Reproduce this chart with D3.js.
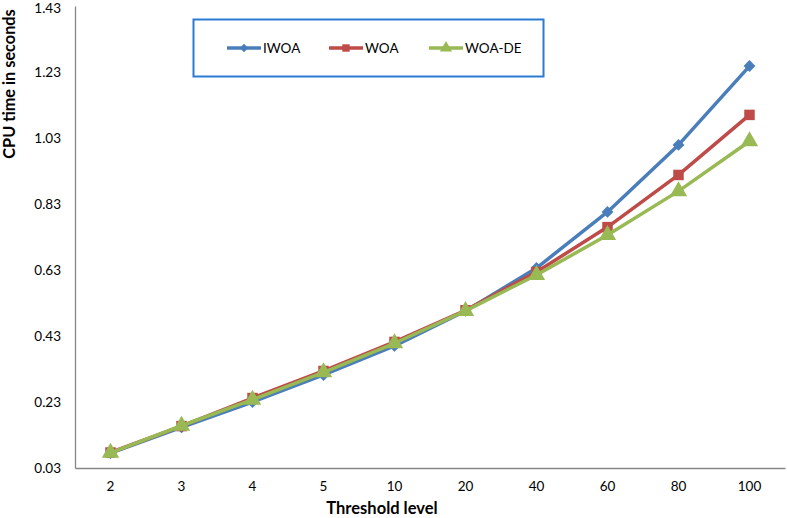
<!DOCTYPE html>
<html><head><meta charset="utf-8">
<script src="https://cdn.jsdelivr.net/npm/d3@7"></script>
<style>body{margin:0;background:#fff}svg{display:block;font-family:Lato,"Open Sans",sans-serif}</style>
</head><body><svg id="c" width="787" height="518"></svg>
<script>
const categories = ["2","3","4","5","10","20","40","60","80","100"];
const iwoa  = [0.075,0.153,0.230,0.312,0.400,0.506,0.636,0.806,1.009,1.248];
const woa   = [0.077,0.157,0.242,0.324,0.412,0.508,0.624,0.760,0.918,1.100];
const woaDe = [0.076,0.158,0.237,0.320,0.408,0.506,0.615,0.736,0.869,1.020];
const yTicks = [0.03,0.23,0.43,0.63,0.83,1.03,1.23,1.43];
const seriesNames = ["IWOA","WOA","WOA-DE"];
const seriesColors = ["#4a7ebb","#be4b48","#98b954"];
const seriesSymbols = [d3.symbolDiamond2, d3.symbolSquare, d3.symbolTriangle];
const seriesSizes = [90,110,130];
const seriesData = [iwoa, woa, woaDe];

const svg = d3.select("#c");
const L=75, R=785, T=6, B=468;
const x = d3.scaleBand().domain(categories).range([L,R]);
const y = d3.scaleLinear().domain([0.03,1.43]).range([B,T]);

// axes
const ya = svg.append("g").attr("transform",`translate(${L},0)`)
  .call(d3.axisLeft(y).tickValues(yTicks).tickSize(0).tickPadding(14).tickFormat(d3.format(".2f")));
const xa = svg.append("g").attr("transform",`translate(0,${B})`)
  .call(d3.axisBottom(x).tickSize(0).tickPadding(13));
[ya,xa].forEach(g=>{
  g.select(".domain").attr("stroke","#868686").attr("stroke-width",1.3);
  g.selectAll("text").attr("font-size",13.5).attr("fill","#000").attr("font-family","Lato,sans-serif");
});
ya.selectAll(".tick").filter(d=>d===1.43).select("text").attr("dy","0.5em");

svg.append("text").attr("x",382).attr("y",514).attr("text-anchor","middle")
  .attr("font-weight","bold").attr("font-size",16.5).text("Threshold level");
svg.append("text").attr("transform","translate(15,84) rotate(-90)").attr("text-anchor","middle")
  .attr("font-weight","bold").attr("font-size",16.3).text("CPU time in seconds");

const line = d3.line().x((d,i)=>x(categories[i])+x.bandwidth()/2).y(d=>y(d));
seriesData.forEach((data,s)=>{
  svg.append("path").datum(data).attr("d",line).attr("fill","none")
    .attr("stroke",seriesColors[s]).attr("stroke-width",3.5).attr("stroke-linejoin","round");
  svg.append("g").selectAll("path").data(data).join("path")
    .attr("transform",(d,i)=>`translate(${x(categories[i])+x.bandwidth()/2},${y(d)})`)
    .attr("d",d3.symbol().type(seriesSymbols[s]).size(seriesSizes[s]))
    .attr("fill",seriesColors[s]);
});

// legend
const lg = svg.append("g");
lg.append("rect").attr("x",193.5).attr("y",19.5).attr("width",350).attr("height",57)
  .attr("fill","#fff").attr("stroke","#2b7bd3").attr("stroke-width",2);
const lx = [227,329,429];
seriesNames.forEach((n,s)=>{
  const g = lg.append("g").attr("transform",`translate(${lx[s]},48)`);
  g.append("line").attr("x1",0).attr("x2",34).attr("stroke",seriesColors[s]).attr("stroke-width",3.5);
  g.append("path").attr("transform","translate(17,0)")
    .attr("d",d3.symbol().type(seriesSymbols[s]).size(seriesSizes[s]*0.5)).attr("fill",seriesColors[s]);
  g.append("text").attr("x",36).attr("y",5).attr("font-size",13.5).text(n);
});
</script></body></html>
